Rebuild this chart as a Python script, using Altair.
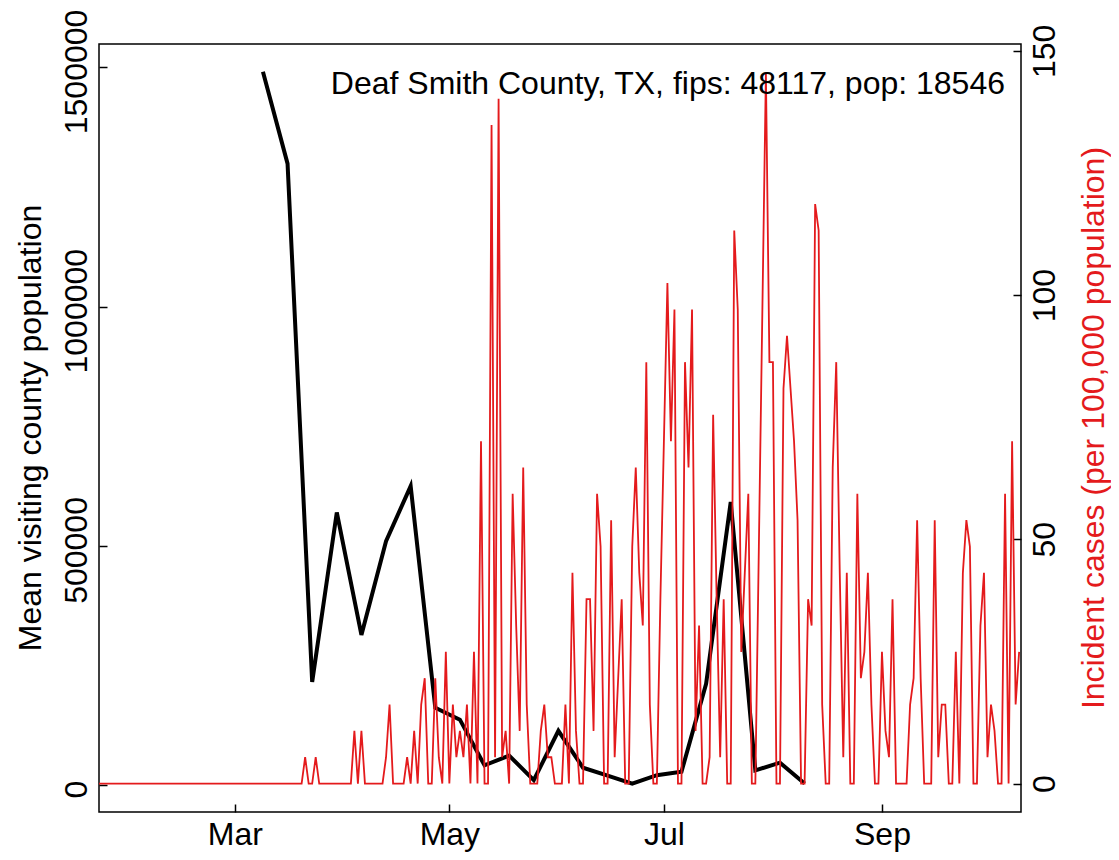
import altair as alt
import pandas as pd

# ---------------- data ----------------
POP = 18546
TITLE_TEXT = "Deaf Smith County, TX, fips: 48117, pop: 18546"

# daily incident case counts, starting 2020-01-22
red_start = "2020-01-22"
red_cases = [
    0, 0, 0, 0, 0, 0, 0, 0, 0, 0,
    0, 0, 0, 0, 0, 0, 0, 0, 0, 0,
    0, 0, 0, 0, 0, 0, 0, 0, 0, 0,
    0, 0, 0, 0, 0, 0, 0, 0, 0, 0,
    0, 0, 0, 0, 0, 0, 0, 0, 0, 0,
    0, 0, 0, 0, 0, 0, 0, 0, 0,
    1, 0, 0, 1, 0, 0, 0, 0, 0, 0,
    0, 0, 0, 0, 2, 0, 2, 0, 0, 0,
    0, 0, 0, 1, 3, 0, 0, 0, 0, 1,
    0, 2, 0, 3, 4, 0, 0, 4, 1, 0,
    5, 0, 3, 1, 2, 1, 3, 0, 5, 0,
    13, 0, 0, 25, 1, 26, 1, 2, 0, 11,
    6, 2, 12, 3, 0, 0, 0, 2, 3, 1,
    1, 0, 0, 0, 3, 0, 8, 2, 0, 0,
    7, 7, 2, 11, 9, 0, 0, 10, 1, 4,
    7, 0, 0, 9, 12, 8, 6, 16, 3, 0,
    0, 7, 13, 19, 13, 18, 0, 0, 16, 12,
    18, 2, 6, 0, 0, 1, 14, 7, 1, 7,
    0, 0, 21, 18, 5, 8, 11, 0, 0, 9,
    18, 27, 16, 16, 0, 0, 15, 17, 15, 13,
    10, 0, 0, 7, 6, 22, 21, 3, 0, 0,
    12, 16, 8, 1, 8, 0, 0, 11, 4, 5,
    8, 3, 0, 0, 5, 2, 1, 7, 0, 0,
    0, 0, 3, 4, 10, 4, 0, 0, 0, 10,
    1, 3, 3, 0, 0, 5, 0, 8, 10, 9,
    0, 0, 6, 8, 1, 3, 2, 0, 0, 11,
    0, 13, 3, 5,
]

# weekly mean visiting county population, starting 2020-03-09
black_start = "2020-03-09"
black_values = [
    1491000, 1299000, 216000, 570000, 314000, 510000, 625000, 162000,
    137000, 41500, 62000, 10600, 113700, 36500, 20000, 3100,
    21000, 28000, 212000, 592000, 31000, 47000, 3500,
]

x_tick_dates = [(2020, 3, 1), (2020, 5, 1), (2020, 7, 1), (2020, 9, 1)]
left_ticks = [0, 500000, 1000000, 1500000]
right_ticks = [0, 50, 100, 150]
left_title = "Mean visiting county population"
right_title = "Incident cases (per 100,000 population)"

# ---------------- tables ----------------
red_df = pd.DataFrame({
    "date": pd.date_range(red_start, periods=len(red_cases), freq="D").strftime("%Y-%m-%d"),
    "rate": [c * 100000 / POP for c in red_cases],
})
black_df = pd.DataFrame({
    "date": pd.date_range(black_start, periods=len(black_values), freq="7D").strftime("%Y-%m-%d"),
    "value": black_values,
})

RED = "#E41A1C"
FONT = "Liberation Sans"
FS = 32

x_scale = alt.Scale(
    type="utc",
    domain=[
        alt.DateTime(year=2020, month=1, date=22, hours=9, minutes=22, utc=True),
        alt.DateTime(year=2020, month=10, date=10, hours=12, minutes=43, utc=True),
    ],
    nice=False,
)
x_axis = alt.Axis(
    values=[alt.DateTime(year=y, month=m, date=d, utc=True) for (y, m, d) in x_tick_dates],
    labelExpr="utcFormat(datum.value, '%b')", title=None, orient="bottom",
    offset=-8, tickSize=8, labelPadding=7, domain=False, grid=False,
    labelFlush=False, labelOverlap=False, labelAngle=0,
    labelFont=FONT, labelFontSize=FS, labelColor="black",
    tickColor="black", tickWidth=1.5,
)

left_axis = alt.Axis(
    values=left_ticks, format="d", title=None, orient="left",
    offset=-8, tickSize=8, labelPadding=13, labelOffset=4, domain=False, grid=False,
    labelAngle=270, labelAlign="center", labelBaseline="alphabetic",
    labelFlush=False, labelOverlap=False,
    labelFont=FONT, labelFontSize=FS, labelColor="black",
    tickColor="black", tickWidth=1.5,
)
right_axis = alt.Axis(
    values=right_ticks, format="d", title=None, orient="right",
    offset=-8, tickSize=8, labelPadding=8, domain=False, grid=False,
    labelAngle=270, labelAlign="center", labelBaseline="top",
    labelFlush=False, labelOverlap=False,
    labelFont=FONT, labelFontSize=FS, labelColor="black",
    tickColor="black", tickWidth=1.5,
)

black = alt.Chart(black_df).mark_line(color="black", strokeWidth=4, clip=True).encode(
    x=alt.X("date:T", scale=x_scale, axis=x_axis),
    y=alt.Y("value:Q", scale=alt.Scale(domain=[-56000, 1549000], nice=False, zero=False), axis=left_axis),
)

red = alt.Chart(red_df).mark_line(color=RED, strokeWidth=1.8, clip=True).encode(
    x=alt.X("date:T", scale=x_scale),
    y=alt.Y("rate:Q", scale=alt.Scale(domain=[-5.82, 151.4], nice=False, zero=False), axis=right_axis),
)

annot = alt.Chart(pd.DataFrame({"t": [TITLE_TEXT]})).mark_text(
    align="right", baseline="alphabetic", font=FONT, fontSize=FS, color="black"
).encode(text="t:N", x=alt.value(906), y=alt.value(50))

ltitle = alt.Chart(pd.DataFrame({"t": [left_title]})).mark_text(
    align="center", baseline="alphabetic", angle=270, font=FONT, fontSize=FS, color="black"
).encode(text="t:N", x=alt.value(-58), y=alt.value(384))

rtitle = alt.Chart(pd.DataFrame({"t": [right_title]})).mark_text(
    align="center", baseline="alphabetic", angle=270, font=FONT, fontSize=FS, color=RED
).encode(text="t:N", x=alt.value(1005), y=alt.value(384))

chart = alt.layer(black, red, annot, ltitle, rtitle).resolve_scale(
    y="independent"
).properties(
    width=922, height=768,
    padding={"left": 91, "top": 36, "right": 90, "bottom": 40},
    autosize=alt.AutoSizeParams(type="none"),
    background="white",
).configure_view(
    stroke="black", strokeWidth=1.5
)

chart.save("out.html", embed_options={"renderer": "svg", "actions": False})
